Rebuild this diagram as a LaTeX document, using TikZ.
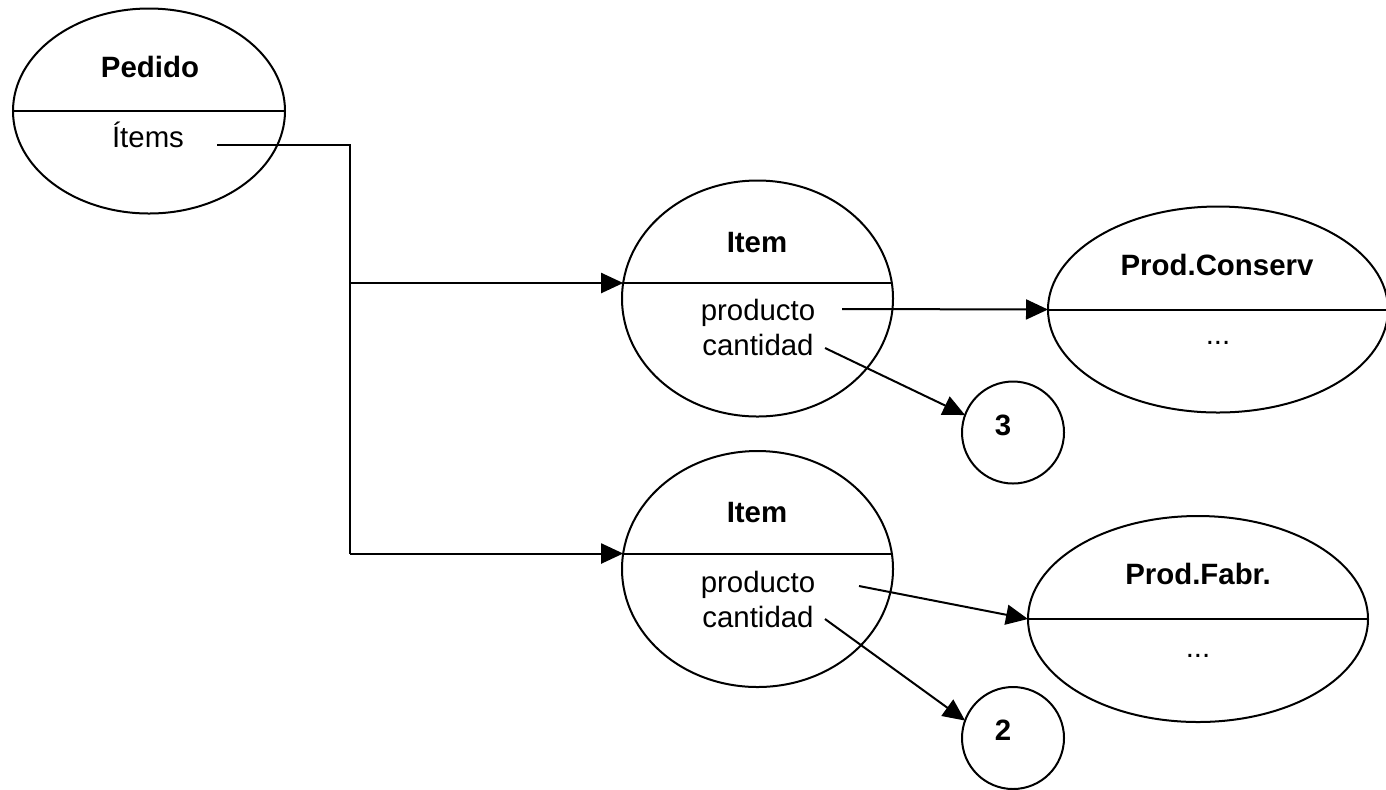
\documentclass[tikz,border=0pt]{standalone}
\usepackage{fontspec}
\setmainfont{Liberation Sans}
\usetikzlibrary{arrows.meta,shapes.geometric,calc}

\begin{document}
\begin{tikzpicture}[x=0.5pt,y=-0.5pt,line width=1pt,
  every node/.style={font=\fontsize{14.7}{17}\selectfont},
  obj/.style={draw,ellipse,inner sep=0pt,outer sep=0pt},
  val/.style={draw,circle,inner sep=0pt,outer sep=0pt,minimum size=51pt},
  lbl/.style={anchor=base},
  title/.style={anchor=base,font=\fontsize{14.7}{17}\selectfont\bfseries},
  link/.style={-{Triangle[length=11pt,width=10pt]}}]

\useasboundingbox (0,0) rectangle (1386,789);

% object ellipses
\node[obj,minimum width=136pt,minimum height=102.5pt] (ped) at (149,111) {};
\node[obj,minimum width=135.5pt,minimum height=118pt] (it1) at (757.5,298.5) {};
\node[obj,minimum width=135.5pt,minimum height=118pt] (it2) at (757.5,569) {};
\node[obj,minimum width=170pt,minimum height=103pt] (pc) at (1218,309.5) {};
\node[obj,minimum width=170pt,minimum height=103pt] (pf) at (1198,619) {};

% value circles
\node[val] (c3) at (1013,432.5) {};
\node[val] (c2) at (1013,738) {};

% dividers
\draw (ped.west) -- (ped.east);
\draw (pc.west) -- (pc.east);
\draw (pf.west) -- (pf.east);
\coordinate (i1w) at ($(it1.center)+(-134.3,-15.5)$);
\coordinate (i1e) at ($(it1.center)+(134.3,-15.5)$);
\coordinate (i2w) at ($(it2.center)+(-134.3,-15.5)$);
\coordinate (i2e) at ($(it2.center)+(134.3,-15.5)$);
\draw (i1w) -- (i1e);
\draw (i2w) -- (i2e);

% labels
\node[title] (tped) at (150,77) {Pedido};
\node[lbl] (items) at (148,147) {Ítems};
\node[title] (ti1) at (757,252) {Item};
\node[lbl] (prod1) at (758,320) {producto};
\node[lbl] (cant1) at (758,355) {cantidad};
\node[title] (ti2) at (757,522) {Item};
\node[lbl] (prod2) at (758,592) {producto};
\node[lbl] (cant2) at (758,627) {cantidad};
\node[title] (tpc) at (1217,275) {Prod.Conserv};
\node[lbl] (dpc) at (1218,344) {...};
\node[title] (tpf) at (1198,584) {Prod.Fabr.};
\node[lbl] (dpf) at (1198,657) {...};
\node[title] (v3) at (1003,435) {3};
\node[title] (v2) at (1003,740) {2};

% Ítems collection links
\coordinate (ia) at (217,145);
\coordinate (t1) at (350,145);
\coordinate (b1) at (t1 |- i1w);
\coordinate (b2) at (t1 |- i2w);
\draw (ia) -- (t1) -- (b2);
\draw[link] (b1) -- (i1w);
\draw[link] (b2) -- (i2w);

% attribute links
\coordinate (p1s) at (842,309);
\coordinate (k1s) at (825,348);
\coordinate (p2s) at (859,586);
\coordinate (k2s) at (825,619);
\draw[link] (p1s) -- (pc.west);
\draw[link] (k1s) -- (c3.160);
\draw[link] (p2s) -- (pf.west);
\draw[link] (k2s) -- (c2.160);
\end{tikzpicture}
\end{document}
